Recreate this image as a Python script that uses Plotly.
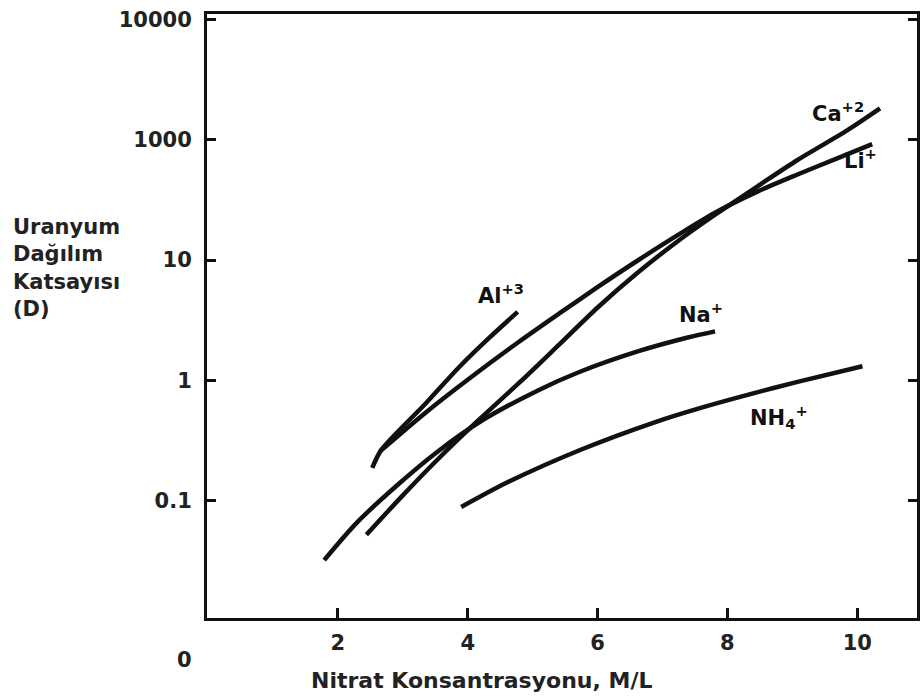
import plotly.graph_objects as go

# Nitrate concentration (M/L) and distribution coefficient D (axis position scale)
ca_x = [2.44, 2.99, 3.56, 4.17, 4.79, 5.40, 6.01, 6.63, 7.24, 7.85, 8.47, 9.08, 9.85, 10.35]
ca_y = [0.052, 0.109, 0.226, 0.468, 0.95, 1.96, 4.07, 7.94, 14.4, 24.6, 41.2, 67.8, 120, 182]

li_x = [2.64, 3.36, 4.02, 4.79, 5.40, 6.01, 6.63, 7.29, 7.85, 8.47, 9.08, 9.69, 10.23]
li_y = [0.254, 0.543, 1.03, 2.09, 3.56, 6.0, 10.0, 16.8, 25.4, 37.2, 51.4, 70.0, 92.0]

al_x = [2.53, 2.67, 3.36, 3.87, 4.33, 4.77]
al_y = [0.187, 0.264, 0.648, 1.29, 2.25, 3.70]

na_x = [1.79, 2.29, 2.94, 3.51, 4.22, 5.09, 5.71, 6.63, 7.39, 7.81]
na_y = [0.032, 0.0653, 0.138, 0.249, 0.463, 0.828, 1.167, 1.746, 2.27, 2.55]

nh4_x = [3.90, 4.59, 5.75, 6.89, 7.55, 8.31, 9.08, 10.08]
nh4_y = [0.0885, 0.140, 0.266, 0.450, 0.582, 0.757, 0.970, 1.31]

x_ticks = [2, 4, 6, 8, 10]
y_tickvals = [0.1, 1, 10, 100, 1000]
y_ticktext = ["0.1", "1", "10", "1000", "10000"]

FONT = "DejaVu Sans"
INK = "#111111"

fig = go.Figure()
for xs, ys, name in [(ca_x, ca_y, "Ca+2"), (li_x, li_y, "Li+"), (al_x, al_y, "Al+3"),
                     (na_x, na_y, "Na+"), (nh4_x, nh4_y, "NH4+")]:
    fig.add_trace(go.Scatter(x=xs, y=ys, mode="lines", name=name,
                             line=dict(color=INK, width=4.5, shape="spline", smoothing=0.8),
                             showlegend=False))

labels = [
    ("Ca<sup>+2</sup>", 9.70, 2.23),
    ("Li<sup>+</sup>", 10.05, 1.84),
    ("Al<sup>+3</sup>", 4.51, 0.72),
    ("Na<sup>+</sup>", 7.59, 0.559),
    ("NH<sub>4</sub><sup>+</sup>", 8.80, -0.305),
]
for txt, ax_, ay_ in labels:
    fig.add_annotation(x=ax_, y=ay_, xref="x", yref="y", text=txt,
                       showarrow=False, font=dict(family=FONT, size=21, color=INK, weight="bold"))

fig.add_annotation(xref="paper", yref="paper", x=-0.276, y=0.58, xanchor="left", yanchor="middle",
                   align="left", showarrow=False,
                   text="Uranyum<br>Dağılım<br>Katsayısı<br>(D)",
                   font=dict(family=FONT, size=21, color="#222222", weight="bold"))
fig.add_annotation(xref="paper", yref="paper", x=0.386, y=-0.103, xanchor="center", yanchor="middle",
                   showarrow=False, text="Nitrat Konsantrasyonu, M/L",
                   font=dict(family=FONT, size=22, color="#222222", weight="bold"))
fig.add_annotation(xref="paper", yref="paper", x=-0.031, y=-0.070, xanchor="center", yanchor="middle",
                   showarrow=False, text="0",
                   font=dict(family=FONT, size=21, color="#222222", weight="bold"))

fig.update_xaxes(range=[-0.015, 10.92], tickvals=x_ticks, ticks="inside", ticklen=10, tickwidth=2.5,
                 tickcolor=INK, showline=True, linewidth=3, linecolor=INK, mirror=True,
                 showgrid=False, zeroline=False,
                 tickfont=dict(family=FONT, size=21, color="#222222", weight="bold"),
                 ticklabelstandoff=4)
fig.update_yaxes(type="log", range=[-1.976, 3.045], tickvals=y_tickvals, ticktext=y_ticktext,
                 ticks="inside", ticklen=9, tickwidth=2.5, tickcolor=INK,
                 showline=True, linewidth=3, linecolor=INK, mirror="ticks",
                 showgrid=False, zeroline=False, ticklabeloverflow="allow",
                 tickfont=dict(family=FONT, size=21, color="#222222", weight="bold"),
                 ticklabelstandoff=8)

fig.update_layout(width=921, height=698, margin=dict(l=207, r=1, t=14, b=80),
                  plot_bgcolor="white", paper_bgcolor="white")
fig.write_html("out.html", config={"displayModeBar": False},
               post_script="document.body.style.margin='0';document.body.style.overflow='hidden';")
